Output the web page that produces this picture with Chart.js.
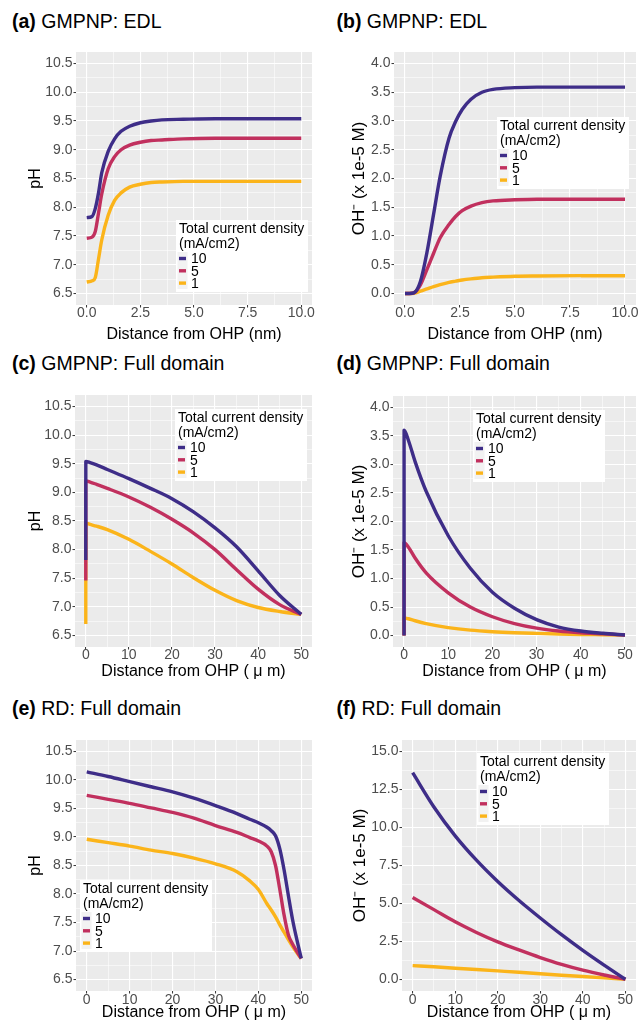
<!DOCTYPE html>
<html lang="en">
<head>
<meta charset="UTF-8">
<script src="https://cdn.jsdelivr.net/npm/chart.js"></script>
<style>
  body { margin: 0; background: #fff; overflow: hidden; }
  #wrap { position: relative; width: 640px; height: 1021px; overflow: hidden; font-family: "Liberation Sans", Arial, sans-serif; }
  .ttl { position: absolute; font-size: 19.5px; line-height: 19.5px; color: #000; white-space: nowrap; z-index: 2; }
  canvas { position: absolute; }
</style>
</head>
<body>
<div id="wrap">
  <div class="ttl" style="left:12px;top:11.5px"><b>(a)</b> GMPNP: EDL</div>
  <div class="ttl" style="left:336.5px;top:11.5px"><b>(b)</b> GMPNP: EDL</div>
  <div class="ttl" style="left:12px;top:353.5px"><b>(c)</b> GMPNP: Full domain</div>
  <div class="ttl" style="left:336.5px;top:353.5px"><b>(d)</b> GMPNP: Full domain</div>
  <div class="ttl" style="left:12px;top:698.5px"><b>(e)</b> RD: Full domain</div>
  <div class="ttl" style="left:336.5px;top:698.5px"><b>(f)</b> RD: Full domain</div>
  <canvas id="pa" width="320" height="310" style="left:0px;top:40px"></canvas>
  <canvas id="pb" width="320" height="310" style="left:320px;top:40px"></canvas>
  <canvas id="pc" width="320" height="307" style="left:0px;top:385px"></canvas>
  <canvas id="pd" width="320" height="307" style="left:320px;top:385px"></canvas>
  <canvas id="pe" width="320" height="306" style="left:0px;top:730px"></canvas>
  <canvas id="pf" width="320" height="306" style="left:320px;top:730px"></canvas>
</div>
<script>
// ---- data ----
const currents = ['10', '5', '1'];
const legendTitle = ['Total current density', '(mA/cm2)'];

// (a) pH inside the EDL, distance in nm
const xEdlPh = [0, 0.25, 0.4, 0.55, 0.7, 1.0, 1.3, 1.6, 2.0, 2.5, 3.0, 3.5, 4.5, 6, 8, 10];
const phEdl10 = [7.82, 7.84, 7.98, 8.25, 8.6, 8.97, 9.19, 9.32, 9.41, 9.47, 9.5, 9.52, 9.53, 9.54, 9.54, 9.54];
const phEdl5 = [7.46, 7.48, 7.58, 7.9, 8.23, 8.67, 8.88, 9.0, 9.08, 9.13, 9.16, 9.17, 9.19, 9.2, 9.2, 9.2];
const phEdl1 = [6.70, 6.72, 6.78, 7.1, 7.43, 7.86, 8.12, 8.25, 8.35, 8.4, 8.43, 8.44, 8.45, 8.45, 8.45, 8.45];

// (b) OH- inside the EDL (x 1e-5 M)
const xEdlOh = [0, 0.2, 0.4, 0.7, 1.0, 1.3, 1.6, 2.0, 2.3, 2.6, 3.0, 3.5, 4, 5, 6, 8, 10];
const ohEdl10 = [0, 0, 0.01, 0.21, 0.72, 1.38, 2.04, 2.7, 2.99, 3.2, 3.38, 3.5, 3.55, 3.58, 3.59, 3.59, 3.59];
const ohEdl5 = [0, 0, 0.01, 0.15, 0.42, 0.7, 0.97, 1.2, 1.34, 1.44, 1.52, 1.58, 1.61, 1.63, 1.64, 1.64, 1.64];
const ohEdl1 = [0, 0, 0.005, 0.04, 0.08, 0.12, 0.155, 0.195, 0.215, 0.235, 0.255, 0.275, 0.285, 0.3, 0.305, 0.31, 0.31];

// (c) pH, GMPNP full domain, distance in um (EDL squeezed into 0..0.01)
const xFullPh = [0, 0.01, 1, 2.5, 5, 10, 15, 20, 25, 30, 35, 40, 45, 50];
const phFull10 = [7.82, 9.54, 9.52, 9.48, 9.40, 9.24, 9.07, 8.89, 8.66, 8.38, 8.05, 7.63, 7.2, 6.87];
const phFull5 = [7.46, 9.20, 9.18, 9.14, 9.07, 8.92, 8.74, 8.53, 8.29, 8.0, 7.65, 7.31, 7.04, 6.87];
const phFull1 = [6.70, 8.46, 8.44, 8.41, 8.35, 8.18, 7.97, 7.75, 7.51, 7.29, 7.11, 6.99, 6.92, 6.87];

// (d) OH-, GMPNP full domain
const xFullOh = [0, 0.01, 1, 2.5, 5, 10, 15, 20, 25, 30, 35, 40, 45, 50];
const ohFull10 = [0, 3.6, 3.42, 3.05, 2.53, 1.75, 1.18, 0.76, 0.48, 0.28, 0.15, 0.08, 0.04, 0.01];
const ohFull5 = [0, 1.63, 1.55, 1.36, 1.1, 0.75, 0.5, 0.33, 0.21, 0.13, 0.08, 0.05, 0.03, 0.01];
const ohFull1 = [0, 0.31, 0.295, 0.26, 0.21, 0.14, 0.095, 0.068, 0.05, 0.038, 0.028, 0.02, 0.015, 0.01];

// (e) pH, RD full domain
const xRdPh = [0, 5, 10, 15, 20, 25, 30, 35, 38, 40, 42, 43, 44, 45, 46, 47, 48, 49, 50];
const phRd10 = [10.14, 10.06, 9.97, 9.88, 9.79, 9.68, 9.55, 9.41, 9.31, 9.25, 9.17, 9.11, 9.02, 8.79, 8.42, 7.97, 7.54, 7.19, 6.87];
const phRd5 = [9.73, 9.66, 9.59, 9.51, 9.43, 9.33, 9.2, 9.08, 8.99, 8.93, 8.84, 8.74, 8.5, 8.08, 7.63, 7.28, 7.12, 6.99, 6.87];
const phRd1 = [8.96, 8.9, 8.84, 8.77, 8.71, 8.63, 8.53, 8.39, 8.23, 8.08, 7.83, 7.72, 7.6, 7.46, 7.33, 7.2, 7.08, 6.97, 6.87];

// (f) OH-, RD full domain
const xRdOh = [0, 5, 10, 15, 20, 25, 30, 35, 40, 45, 50];
const ohRd10 = [13.6, 11.35, 9.45, 7.85, 6.45, 5.2, 4.05, 2.95, 1.92, 0.95, 0.02];
const ohRd5 = [5.4, 4.6, 3.8, 3.1, 2.48, 1.95, 1.45, 1.0, 0.62, 0.3, 0.02];
const ohRd1 = [0.92, 0.84, 0.75, 0.66, 0.57, 0.48, 0.38, 0.29, 0.2, 0.11, 0.02];

// ticks (major labelled, minor only gridlines)
const phMajor = [6.5, 7.0, 7.5, 8.0, 8.5, 9.0, 9.5, 10.0, 10.5];
const phMinor = [6.75, 7.25, 7.75, 8.25, 8.75, 9.25, 9.75, 10.25];
const ohMajor = [0, 0.5, 1.0, 1.5, 2.0, 2.5, 3.0, 3.5, 4.0];
const ohMinor = [0.25, 0.75, 1.25, 1.75, 2.25, 2.75, 3.25, 3.75];
const ohRdMajor = [0, 2.5, 5, 7.5, 10, 12.5, 15];
const ohRdMinor = [1.25, 3.75, 6.25, 8.75, 11.25, 13.75];
const nmMajor = [0, 2.5, 5, 7.5, 10];
const nmMinor = [1.25, 3.75, 6.25, 8.75];
const umMajor = [0, 10, 20, 30, 40, 50];
const umMinor = [5, 15, 25, 35, 45];

// ---- styling ----
const FONT = '"Liberation Sans", Arial, sans-serif';
const lineColors = ['#3E2D88', '#C1305E', '#FBB41A'];

const panelBg = {
  id: 'panelBg',
  beforeDraw(chart) {
    const { ctx, chartArea: a } = chart;
    ctx.save();
    ctx.fillStyle = '#EBEBEB';
    ctx.fillRect(a.left, a.top, a.right - a.left, a.bottom - a.top);
    ctx.restore();
  }
};

const ggLegend = {
  id: 'ggLegend',
  afterDraw(chart, args, opts) {
    const { ctx, chartArea: a } = chart;
    const x0 = a.left + opts.dx, y0 = a.top + opts.dy;
    ctx.save();
    ctx.fillStyle = '#fff';
    ctx.fillRect(x0, y0, 132, 72);
    ctx.fillStyle = '#F2F2F2';
    ctx.fillRect(x0 + 1.5, y0 + 32, 10, 37);
    ctx.font = '14px ' + FONT;
    ctx.fillStyle = '#000';
    ctx.textBaseline = 'alphabetic';
    ctx.fillText(legendTitle[0], x0 + 3, y0 + 13);
    ctx.fillText(legendTitle[1], x0 + 3, y0 + 28);
    chart.data.datasets.forEach((ds, i) => {
      const cy = y0 + 38.5 + i * 12.3;
      ctx.strokeStyle = ds.borderColor;
      ctx.lineWidth = 3.4;
      ctx.beginPath();
      ctx.moveTo(x0 + 3, cy);
      ctx.lineTo(x0 + 10, cy);
      ctx.stroke();
      ctx.fillStyle = '#000';
      ctx.textBaseline = 'middle';
      ctx.fillText(ds.label, x0 + 15, cy + 1);
    });
    ctx.restore();
  }
};

function makeAxis(o) {
  const all = o.majors.concat(o.minors).sort((p, q) => p - q);
  const isMajor = v => o.majors.some(m => Math.abs(m - v) < 1e-9);
  return {
    type: 'linear',
    min: o.min,
    max: o.max,
    afterBuildTicks: s => { s.ticks = all.map(v => ({ value: v })); },
    afterFit: s => {
      if (o.width != null) s.width = o.width;
      if (o.height != null) s.height = o.height;
    },
    border: { display: false },
    grid: {
      color: '#ffffff',
      lineWidth: c => isMajor(c.tick.value) ? 1.1 : 0.55,
      tickColor: c => isMajor(c.tick.value) ? '#333333' : 'rgba(0,0,0,0)',
      tickWidth: c => isMajor(c.tick.value) ? 1 : 0,
      tickLength: 2.5
    },
    ticks: {
      autoSkip: false,
      maxRotation: 0,
      padding: o.tickPad,
      color: '#4D4D4D',
      font: { family: FONT, size: 14, lineHeight: 1 },
      callback: v => isMajor(v) ? o.fmt(v) : ''
    },
    title: {
      display: true,
      text: o.title,
      color: '#000',
      font: { family: FONT, size: o.titleSize || 16 },
      padding: o.titlePad
    }
  };
}

const fmt1 = v => v.toFixed(1);
const fmt0 = v => String(Math.round(v));
const nmTitle = 'Distance from OHP (nm)';
const umTitle = 'Distance from OHP ( \u03bc m)';
const phTitle = 'pH';
const ohTitle = 'OH\u207B (x 1e-5 M)';

const panels = [
  { id: 'pa', left: 0, top: 40, w: 320, h: 310, plot: { l: 76, t: 52, r: 312, b: 305 }, xMid: 334.5, yMid: 36,
    xs: xEdlPh, ys: [phEdl10, phEdl5, phEdl1], x: [-0.5, 10.5, nmMajor, nmMinor, fmt1, nmTitle],
    y: [6.3, 10.7, phMajor, phMinor, fmt1, phTitle], leg: { dx: 100, dy: 168 }, tickPad: -1 },
  { id: 'pb', left: 320, top: 40, w: 320, h: 310, plot: { l: 394, t: 52, r: 636, b: 305 }, xMid: 334.5, yMid: 359,
    xs: xEdlOh, ys: [ohEdl10, ohEdl5, ohEdl1], x: [-0.5, 10.5, nmMajor, nmMinor, fmt1, nmTitle],
    y: [-0.2, 4.2, ohMajor, ohMinor, fmt1, ohTitle], leg: { dx: 103, dy: 65 }, tickPad: -1 },
  { id: 'pc', left: 0, top: 385, w: 320, h: 307, plot: { l: 75, t: 395, r: 312, b: 647 }, xMid: 672, yMid: 35.5,
    xs: xFullPh, ys: [phFull10, phFull5, phFull1], x: [-2.5, 52.5, umMajor, umMinor, fmt0, umTitle],
    y: [6.3, 10.7, phMajor, phMinor, fmt1, phTitle], leg: { dx: 100, dy: 14 }, tickPad: -1 },
  { id: 'pd', left: 320, top: 385, w: 320, h: 307, plot: { l: 393, t: 396, r: 636, b: 647 }, xMid: 672, yMid: 359,
    xs: xFullOh, ys: [ohFull10, ohFull5, ohFull1], x: [-2.5, 52.5, umMajor, umMinor, fmt0, umTitle],
    y: [-0.2, 4.2, ohMajor, ohMinor, fmt1, ohTitle], leg: { dx: 80, dy: 14 }, tickPad: -1 },
  { id: 'pe', left: 0, top: 730, w: 320, h: 306, plot: { l: 76, t: 740, r: 312, b: 991 }, xMid: 1013, yMid: 35.5,
    xs: xRdPh, ys: [phRd10, phRd5, phRd1], x: [-2.5, 52.5, umMajor, umMinor, fmt0, umTitle],
    y: [6.3, 10.7, phMajor, phMinor, fmt1, phTitle], leg: { dx: 4, dy: 140 }, tickPad: -0.5 },
  { id: 'pf', left: 320, top: 730, w: 320, h: 306, plot: { l: 402, t: 740, r: 636, b: 991 }, xMid: 1013, yMid: 360,
    xs: xRdOh, ys: [ohRd10, ohRd5, ohRd1], x: [-2.5, 52.5, umMajor, umMinor, fmt0, umTitle],
    y: [-0.75, 15.75, ohRdMajor, ohRdMinor, fmt1, ohTitle], leg: { dx: 75, dy: 13 }, tickPad: -0.5 }
];

panels.forEach(p => {
  const bottom = p.top + p.h;
  const datasets = currents.map((c, i) => ({
    label: c,
    data: p.xs.map((x, k) => ({ x: x, y: p.ys[i][k] })),
    borderColor: lineColors[i],
    borderWidth: 3.4,
    borderJoinStyle: 'round',
    pointRadius: 0,
    cubicInterpolationMode: 'monotone',
    fill: false
  }));
  const xAxis = makeAxis({
    min: p.x[0], max: p.x[1], majors: p.x[2], minors: p.x[3], fmt: p.x[4], title: p.x[5],
    height: bottom - p.plot.b, tickPad: p.tickPad,
    titlePad: { top: 0, bottom: bottom - p.xMid - 9.6 }
  });
  const ySize = p.y[5] === ohTitle ? 17 : 16;
  const yAxis = makeAxis({
    min: p.y[0], max: p.y[1], majors: p.y[2], minors: p.y[3], fmt: p.y[4], title: p.y[5],
    width: p.plot.l - p.left, tickPad: 1, titleSize: ySize,
    titlePad: { top: p.yMid - p.left - ySize * 0.6, bottom: 0 }
  });
  yAxis.position = 'left';
  xAxis.position = 'bottom';
  new Chart(document.getElementById(p.id), {
    type: 'line',
    data: { datasets: datasets },
    options: {
      responsive: false,
      animation: false,
      layout: { padding: { top: p.plot.t - p.top, right: p.left + p.w - p.plot.r, left: 0, bottom: 0 } },
      scales: { x: xAxis, y: yAxis },
      plugins: {
        legend: { display: false },
        tooltip: { enabled: false },
        ggLegend: p.leg
      }
    },
    plugins: [panelBg, ggLegend]
  });
});
</script>
</body>
</html>
